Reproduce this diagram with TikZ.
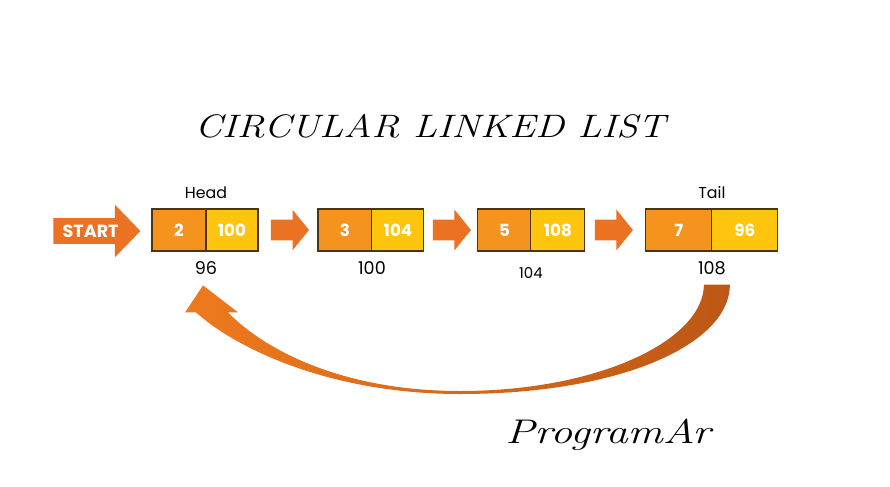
\documentclass[tikz,border=0pt]{standalone}
\usepackage{fontspec}
\usetikzlibrary{positioning,calc,shapes.arrows}
\newfontfamily\labelfont{Poppins}
\definecolor{pointer}{HTML}{EB7222}
\definecolor{datafill}{HTML}{F5931F}
\definecolor{linkfill}{HTML}{FFC50E}
\definecolor{boxline}{HTML}{4A3512}
\definecolor{loopleft}{HTML}{EE7A1E}
\definecolor{loopright}{HTML}{BD5716}

\begin{document}
\begin{tikzpicture}[x=0.02cm,y=-0.02cm,
  cell/.style={draw=boxline,line width=0.6pt,minimum height=0.84cm,inner sep=0pt,outer sep=0pt,
    text=white,font=\labelfont\bfseries\fontsize{9.5}{11}\selectfont},
  datacell/.style={cell,fill=datafill},
  linkcell/.style={cell,fill=linkfill},
  blockarrow/.style={single arrow,fill=pointer,inner xsep=0pt,inner ysep=0.2cm,outer sep=0pt,
    minimum width=0.8cm,minimum height=0.76cm,single arrow head extend=0.2cm,single arrow tip angle=102},
  tag/.style={inner sep=0pt,font=\labelfont\fontsize{9}{11}\selectfont},
  addr/.style={inner sep=0pt,font=\labelfont\fontsize{10}{12}\selectfont}]

  \fill[white] (0,0) rectangle (890,487);

  % Title
  \node[anchor=base,font=\itshape\fontsize{18.5}{22}\selectfont] (title) at (430,137)
    {\scalebox{1.2}[1]{CIRCULAR LINKED LIST}};

  % Start
  \node[single arrow,fill=pointer,anchor=tail,inner xsep=0pt,inner ysep=0.127cm,text height=7pt,
    text depth=0pt,minimum width=1.04cm,minimum height=1.74cm,single arrow head extend=0.27cm,
    single arrow tip angle=92,text=white,font=\labelfont\bfseries\fontsize{10}{12}\selectfont]
    (start) at (53,231) {START};

  % Nodes of the list
  \node[datacell,minimum width=1.08cm] (d1) at (179,230) {2};
  \node[linkcell,minimum width=1.04cm,right=0pt of d1] (p1) {100};
  \node[blockarrow,right=0.26cm of p1] (arrow1) {};
  \node[datacell,minimum width=1.08cm,right=0.18cm of arrow1] (d2) {3};
  \node[linkcell,minimum width=1.04cm,right=0pt of d2] (p2) {104};
  \node[blockarrow,right=0.18cm of p2] (arrow2) {};
  \node[datacell,minimum width=1.06cm,right=0.14cm of arrow2] (d3) {5};
  \node[linkcell,minimum width=1.08cm,right=0pt of d3] (p3) {108};
  \node[blockarrow,right=0.2cm of p3] (arrow3) {};
  \node[datacell,minimum width=1.32cm,right=0.26cm of arrow3] (d4) {7};
  \node[linkcell,minimum width=1.32cm,right=0pt of d4] (p4) {96};

  % Head / Tail
  \node[tag,above=5.5pt of d1.north east] (head) {Head};
  \node[tag,above=5.5pt of d4.north east] (tail) {Tail};

  % Addresses
  \node[addr,below=6pt of d1.south east] (addr1) {96};
  \node[addr,below=6pt of d2.south east] (addr2) {100};
  \node[addr,font=\labelfont\fontsize{8.5}{10}\selectfont,below=9pt of d3.south east] (addr3) {104};
  \node[addr,below=6pt of d4.south east] (addr4) {108};

  % Back link
  \coordinate (loopfrom) at ($(addr4)+(5,16)$);
  \coordinate (loopto) at ($(addr1)+(-3,17)$);
  \shade[left color=loopleft,right color=loopright]
    ($(loopfrom)+(13,0)$) .. controls +(0,60) and +(160,0) .. (460,394)
    .. controls +(-130,0) and +(40,36) .. ($(loopto)+(-7,27)$)
    -- ($(loopto)+(-18,27)$) -- (loopto) -- ($(loopto)+(35,27)$) -- ($(loopto)+(25,27)$)
    .. controls +(35,36) and +(-120,0) .. (460,391)
    .. controls +(140,0) and +(0,55) .. ($(loopfrom)+(-13,0)$) -- cycle;

  % Signature
  \node[anchor=base,font=\itshape\fontsize{19.5}{22}\selectfont] (sign) at (608,443)
    {\scalebox{1.28}[1]{ProgramAr}};
\end{tikzpicture}
\end{document}
